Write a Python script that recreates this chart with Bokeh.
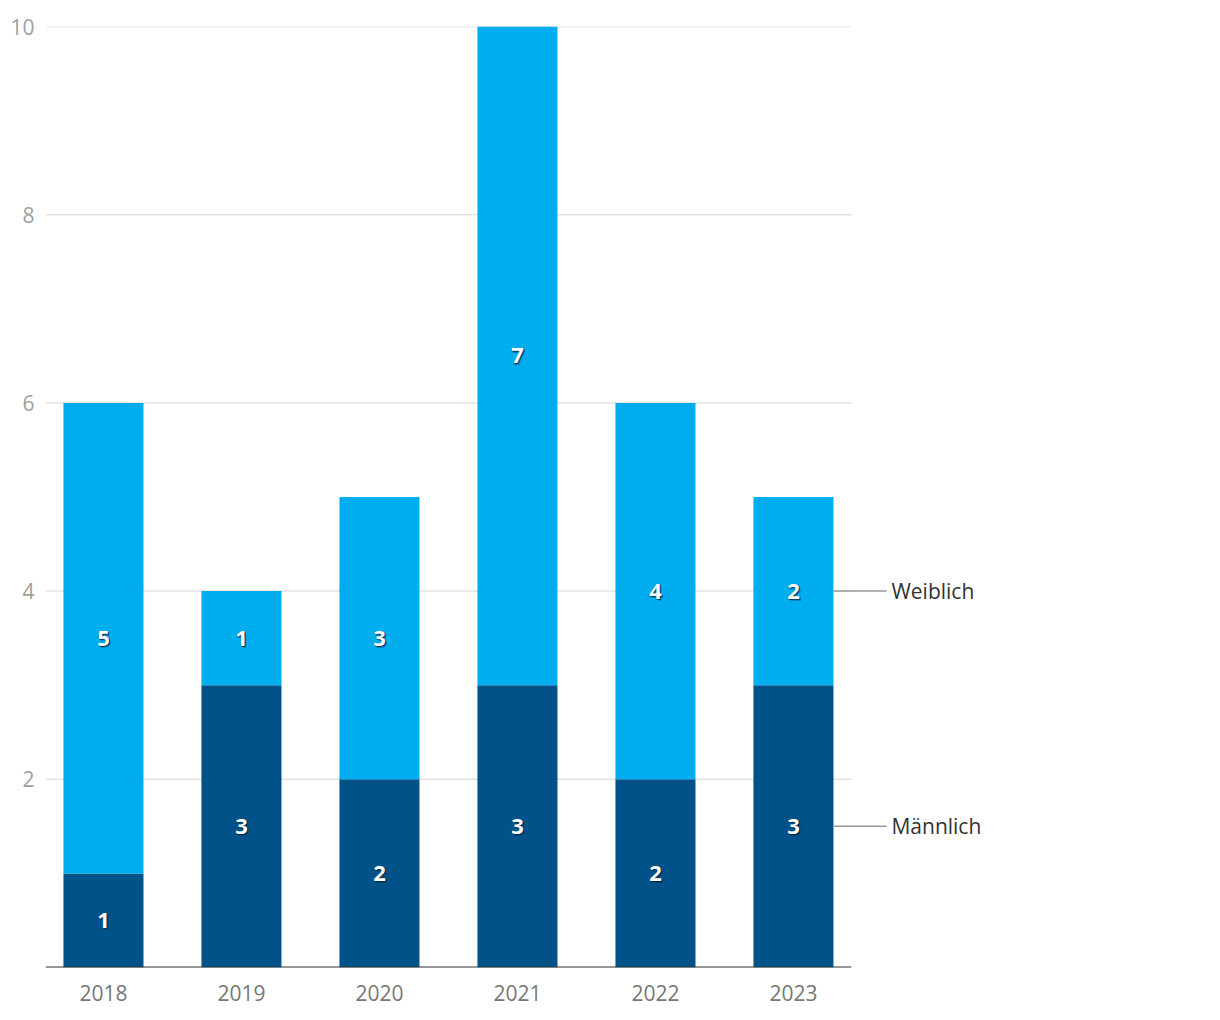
from bokeh.plotting import figure
from bokeh.models import Range1d, FixedTicker, ColumnDataSource
from bokeh.core.properties import value
from bokeh.embed import file_html
from bokeh.resources import INLINE

years = ["2018", "2019", "2020", "2021", "2022", "2023"]
maennlich = [1, 3, 2, 3, 2, 3]
weiblich = [5, 1, 3, 7, 4, 2]
series_names = ["Männlich", "Weiblich"]
y_ticks = [2, 4, 6, 8, 10]

C_DARK = "#005288"
C_LIGHT = "#00adef"
FONT = "Open Sans"

xs = list(range(len(years)))
BAR_W = 0.58
X_LEFT = -0.42
X_RIGHT_DATA = len(years) - 1 + 0.42

p = figure(
    output_backend="svg", toolbar_location=None,
    frame_width=1160, frame_height=941,
    min_border_left=45, min_border_right=0, min_border_top=26, min_border_bottom=45,
    x_range=Range1d(X_LEFT, X_LEFT + 1160 / 138), y_range=Range1d(0, 10),
)
p.outline_line_color = None
p.xgrid.visible = False
p.ygrid.visible = False
p.background_fill_color = "white"
p.border_fill_color = "white"

# grid lines
p.segment(x0=[X_LEFT] * len(y_ticks), x1=[X_RIGHT_DATA] * len(y_ticks), y0=y_ticks, y1=y_ticks,
          line_color="#e2e2e2", line_width=1.5)

# stacked bars
top_m = maennlich
top_w = [m + w for m, w in zip(maennlich, weiblich)]
src = ColumnDataSource(dict(x=xs, m=maennlich, w=weiblich, top_m=top_m, top_w=top_w,
                            mid_m=[m / 2 for m in maennlich],
                            mid_w=[m + w / 2 for m, w in zip(maennlich, weiblich)],
                            lab_m=[str(v) for v in maennlich], lab_w=[str(v) for v in weiblich]))
p.vbar(x="x", bottom=0, top="top_m", width=BAR_W, color=C_DARK, line_color=None, source=src)
p.vbar(x="x", bottom="top_m", top="top_w", width=BAR_W, color=C_LIGHT, line_color=None, source=src)

# baseline axis line
p.segment(x0=[X_LEFT], x1=[X_RIGHT_DATA], y0=[0], y1=[0], line_color="#333333", line_width=2)

# value labels with shadow
for ycol, tcol in (("mid_m", "lab_m"), ("mid_w", "lab_w")):
    for dx, dy, a in ((1, 1, 0.6), (2, 2, 0.3), (0, 1.5, 0.3), (1.5, 0, 0.3), (-0.7, 0.7, 0.2)):
        p.text(x="x", y=ycol, text=tcol, source=src, text_font=value(FONT), text_font_style="bold",
               text_font_size="22px", text_align="center", text_baseline="middle",
               text_color="#00263d", text_alpha=a, x_offset=dx, y_offset=dy)
    p.text(x="x", y=ycol, text=tcol, source=src, text_font=value(FONT), text_font_style="bold",
           text_font_size="22px", text_align="center", text_baseline="middle", text_color="white")

# series labels on the right
last = len(years) - 1
lab_y = [maennlich[last] / 2, maennlich[last] + weiblich[last] / 2]
bar_edge = last + BAR_W / 2
p.segment(x0=[bar_edge] * 2, x1=[last + 0.675] * 2, y0=lab_y, y1=lab_y, line_color="#999999", line_width=1.5)
p.text(x=[last + 0.71] * 2, y=lab_y, text=series_names, text_font=value(FONT), text_font_size="21px",
       text_align="left", text_baseline="middle", text_color="#333333")

# axes
p.xaxis.ticker = FixedTicker(ticks=xs)
p.xaxis.major_label_overrides = {i: y for i, y in zip(xs, years)}
p.xaxis.axis_line_color = None
p.xaxis.major_tick_line_color = None
p.xaxis.minor_tick_line_color = None
p.xaxis.major_label_standoff = 11
p.xaxis.major_label_text_font = FONT
p.xaxis.major_label_text_font_size = "21px"
p.xaxis.major_label_text_color = "#777777"

p.yaxis.ticker = FixedTicker(ticks=y_ticks)
p.yaxis.axis_line_color = None
p.yaxis.major_tick_line_color = None
p.yaxis.minor_tick_line_color = None
p.yaxis.major_label_standoff = 5
p.yaxis.major_label_text_font = FONT
p.yaxis.major_label_text_font_size = "21px"
p.yaxis.major_label_text_color = "#a0a0a0"

open("out.html", "w").write(file_html(p, INLINE))
